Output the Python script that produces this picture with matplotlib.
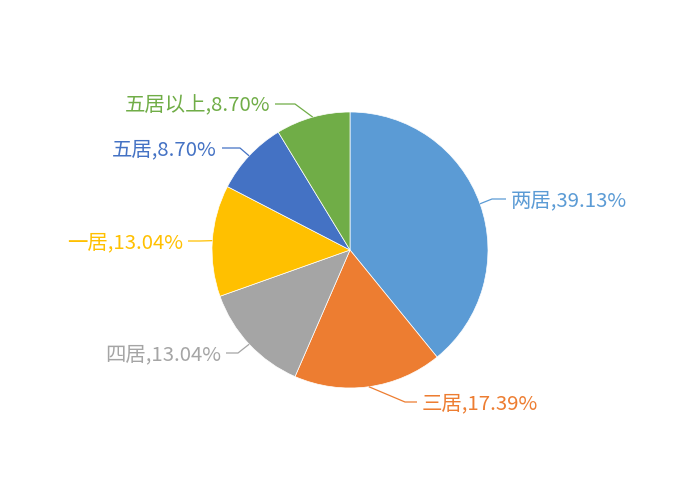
import matplotlib
matplotlib.use("Agg")
import matplotlib.pyplot as plt
import numpy as np

plt.rcParams['font.family'] = ['Noto Sans CJK SC', 'DejaVu Sans']

categories = ['两居', '三居', '四居', '一居', '五居', '五居以上']
values = [39.13, 17.39, 13.04, 13.04, 8.70, 8.70]
colors = ['#5B9BD5', '#ED7D31', '#A5A5A5', '#FFC000', '#4472C4', '#70AD47']

W, H = 700, 500
CX, CY, R = 350, 250, 138
# label layout: elbow point, end of horizontal segment (pixel coords), alignment
elbows = [(492, 199), (405, 402), (238, 353), (200, 241), (240, 148), (295, 104)]
ends = [(506, 199), (417, 402), (226, 353), (188, 241), (222, 148), (275, 104)]
aligns = ['left', 'left', 'right', 'right', 'right', 'right']

fig = plt.figure(figsize=(7, 5), dpi=100)
ax = fig.add_axes([0, 0, 1, 1])

wedges, _ = ax.pie(values, colors=colors, startangle=90, counterclock=False,
                   center=(CX, H - CY), radius=R,
                   wedgeprops=dict(edgecolor='white', linewidth=0.5))
ax.set_xlim(0, W)
ax.set_ylim(0, H)
ax.set_aspect('equal')
ax.axis('off')

total = sum(values)
cum = 0
for i, (cat, v) in enumerate(zip(categories, values)):
    mid = (cum + v / 2) / total * 360
    cum += v
    a = np.deg2rad(mid)
    ex = CX + R * np.sin(a)
    ey = CY - R * np.cos(a)
    bx, by = elbows[i]
    tx, ty = ends[i]
    ax.plot([ex, bx, tx], [H - ey, H - by, H - ty], color=colors[i], lw=0.9,
            solid_capstyle='butt')
    off = 5 if aligns[i] == 'left' else -5
    ax.text(tx + off, H - ty - 2, f'{cat},{v:.2f}%', color=colors[i], fontsize=14.7,
            ha=aligns[i], va='center')

fig.savefig('out.png', dpi=100, facecolor='white')
